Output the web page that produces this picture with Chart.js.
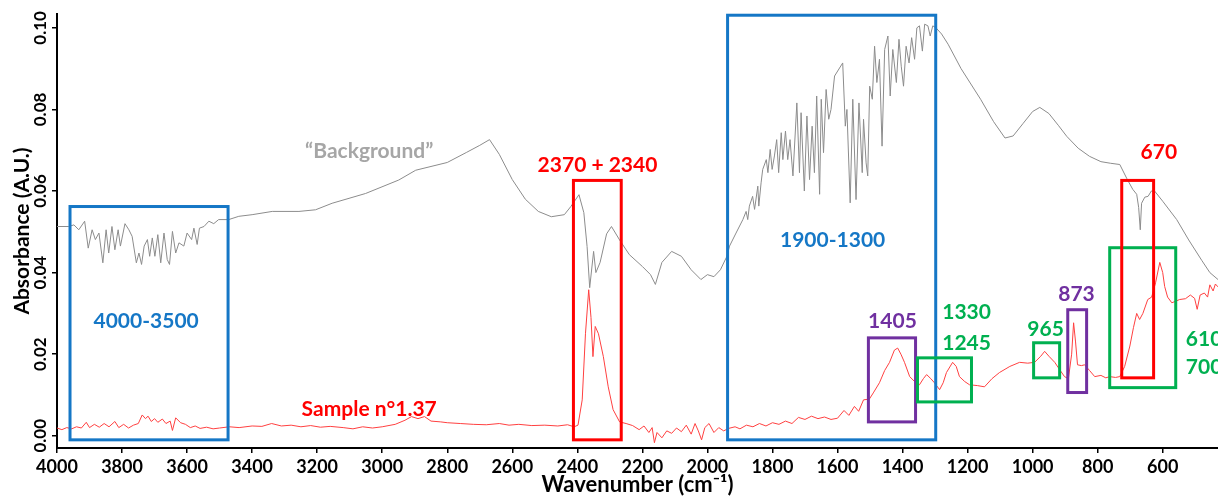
<!DOCTYPE html>
<html>
<head>
<meta charset="utf-8">
<script src="https://cdn.jsdelivr.net/npm/chart.js@4.4.1/dist/chart.umd.min.js"></script>
<style>
  html, body { margin: 0; padding: 0; background: #fff; }
  #wrap { width: 1218px; height: 496px; position: relative; }
</style>
</head>
<body>
<div id="wrap"><canvas id="irChart"></canvas></div>
<script>
// "Background" spectrum (wavenumber, absorbance)
var bgWavenumber = [
    4000, 3964, 3948, 3933, 3915, 3904, 3892, 3882, 3871, 3859, 3849, 3841, 3831, 3822, 3812, 3805,
    3791, 3779, 3769, 3756, 3748, 3740, 3732, 3722, 3715, 3707, 3699, 3690, 3681, 3671, 3661, 3654,
    3645, 3635, 3625, 3610, 3600, 3586, 3579, 3569, 3562, 3548, 3533, 3518, 3503, 3472, 3441, 3400,
    3338, 3256, 3205, 3154, 3051, 2949, 2897, 2800, 2740, 2700, 2670, 2640, 2600, 2560, 2520, 2480,
    2440, 2420, 2395, 2380, 2370, 2362, 2350, 2343, 2330, 2310, 2295, 2270, 2240, 2200, 2175, 2160,
    2140, 2110, 2080, 2050, 2020, 2000, 1980, 1960, 1940, 1932, 1912, 1891, 1881, 1876, 1871, 1861,
    1855, 1845, 1842, 1835, 1830, 1819, 1814, 1807, 1801, 1794, 1787, 1781, 1773, 1768, 1760, 1753,
    1746, 1737, 1725, 1717, 1712, 1702, 1694, 1686, 1678, 1671, 1664, 1655, 1650, 1643, 1635, 1627,
    1620, 1609, 1584, 1576, 1571, 1561, 1553, 1543, 1534, 1524, 1520, 1512, 1507, 1501, 1493, 1486,
    1479, 1471, 1463, 1455, 1445, 1438, 1430, 1419, 1411, 1404, 1397, 1389, 1380, 1372, 1363, 1356,
    1348, 1339, 1332, 1322, 1315, 1307, 1297, 1280, 1260, 1220, 1180, 1160, 1120, 1085, 1060, 1030,
    1000, 978, 950, 920, 895, 860, 825, 790, 760, 732, 710, 692, 680, 674, 669, 665,
    655, 645, 635, 625, 600, 557, 520, 480, 455, 430
];
var bgAbsorbance = [
    0.0513, 0.0513, 0.0517, 0.0505, 0.0526, 0.0460, 0.0505, 0.0481, 0.0497, 0.0424, 0.0505, 0.0448, 0.0513, 0.0456, 0.0505, 0.0465,
    0.0520, 0.0505, 0.0489, 0.0424, 0.0448, 0.0420, 0.0465, 0.0481, 0.0440, 0.0485, 0.0440, 0.0493, 0.0424, 0.0497, 0.0432, 0.0420,
    0.0501, 0.0448, 0.0473, 0.0465, 0.0497, 0.0481, 0.0509, 0.0469, 0.0509, 0.0513, 0.0526, 0.0520, 0.0530, 0.0530, 0.0538, 0.0542,
    0.0550, 0.0550, 0.0554, 0.0570, 0.0594, 0.0627, 0.0651, 0.0670, 0.0695, 0.0712, 0.0726, 0.0690, 0.0628, 0.0580, 0.0550, 0.0537,
    0.0542, 0.0562, 0.0591, 0.0547, 0.0464, 0.0363, 0.0452, 0.0400, 0.0425, 0.0495, 0.0513, 0.0480, 0.0444, 0.0415, 0.0395, 0.0371,
    0.0425, 0.0452, 0.0440, 0.0407, 0.0383, 0.0395, 0.0390, 0.0407, 0.0440, 0.0465, 0.0497, 0.0530, 0.0550, 0.0530, 0.0563, 0.0587,
    0.0555, 0.0612, 0.0563, 0.0620, 0.0653, 0.0677, 0.0645, 0.0702, 0.0653, 0.0686, 0.0726, 0.0645, 0.0743, 0.0677, 0.0747, 0.0677,
    0.0726, 0.0637, 0.0816, 0.0645, 0.0792, 0.0600, 0.0784, 0.0628, 0.0759, 0.0645, 0.0833, 0.0592, 0.0825, 0.0694, 0.0849, 0.0776,
    0.0800, 0.0882, 0.0914, 0.0759, 0.0800, 0.0571, 0.0825, 0.0579, 0.0816, 0.0645, 0.0776, 0.0669, 0.0637, 0.0857, 0.0825, 0.0955,
    0.0866, 0.0923, 0.0710, 0.0947, 0.0980, 0.0833, 0.0947, 0.0866, 0.0972, 0.0906, 0.0857, 0.0955, 0.0914, 0.0976, 0.0923, 0.1000,
    0.1005, 0.0943, 0.1009, 0.1005, 0.0980, 0.1005, 0.1000, 0.0985, 0.0960, 0.0900, 0.0850, 0.0825, 0.0770, 0.0730, 0.0735, 0.0765,
    0.0795, 0.0805, 0.0790, 0.0760, 0.0734, 0.0705, 0.0685, 0.0672, 0.0668, 0.0665, 0.0630, 0.0604, 0.0592, 0.0560, 0.0505, 0.0570,
    0.0585, 0.0587, 0.0600, 0.0600, 0.0575, 0.0530, 0.0480, 0.0430, 0.0400, 0.0383
];

// "Sample n°1.37" spectrum
var sampleWavenumber = [
    4000, 3985, 3970, 3955, 3940, 3925, 3910, 3900, 3885, 3870, 3855, 3840, 3822, 3810, 3795, 3780,
    3765, 3750, 3738, 3728, 3720, 3710, 3700, 3690, 3676, 3665, 3652, 3645, 3635, 3620, 3605, 3590,
    3575, 3560, 3540, 3520, 3500, 3470, 3440, 3400, 3370, 3340, 3310, 3280, 3250, 3220, 3190, 3160,
    3120, 3090, 3060, 3030, 3000, 2960, 2930, 2910, 2890, 2870, 2850, 2820, 2800, 2760, 2720, 2680,
    2640, 2610, 2580, 2540, 2500, 2460, 2430, 2410, 2398, 2385, 2375, 2365, 2358, 2352, 2345, 2335,
    2320, 2305, 2290, 2270, 2250, 2230, 2210, 2195, 2180, 2170, 2163, 2155, 2140, 2125, 2110, 2095,
    2080, 2065, 2050, 2038, 2028, 2018, 2008, 1995, 1980, 1965, 1950, 1935, 1915, 1900, 1880, 1860,
    1840, 1820, 1800, 1780, 1760, 1740, 1720, 1700, 1680, 1660, 1640, 1620, 1600, 1580, 1565, 1548,
    1535, 1520, 1502, 1490, 1471, 1455, 1440, 1425, 1415, 1405, 1394, 1378, 1363, 1348, 1336, 1326,
    1313, 1302, 1286, 1275, 1265, 1246, 1235, 1225, 1209, 1194, 1170, 1148, 1125, 1102, 1070, 1040,
    1015, 994, 975, 963, 950, 932, 915, 902, 890, 880, 874, 868, 862, 850, 840, 825,
    809, 790, 775, 763, 745, 732, 717, 701, 690, 680, 671, 661, 646, 634, 622, 609,
    600, 594, 585, 572, 560, 548, 530, 515, 502, 494, 485, 472, 462, 455, 445, 438, 430
];
var sampleAbsorbance = [
    0.0019, 0.0015, 0.0020, 0.0017, 0.0022, 0.0019, 0.0033, 0.0020, 0.0028, 0.0021, 0.0030, 0.0022, 0.0035, 0.0020, 0.0028, 0.0019,
    0.0026, 0.0030, 0.0051, 0.0042, 0.0048, 0.0035, 0.0042, 0.0033, 0.0041, 0.0030, 0.0036, 0.0013, 0.0044, 0.0032, 0.0028, 0.0020,
    0.0024, 0.0018, 0.0021, 0.0017, 0.0019, 0.0022, 0.0020, 0.0024, 0.0023, 0.0030, 0.0024, 0.0026, 0.0022, 0.0025, 0.0021, 0.0023,
    0.0020, 0.0017, 0.0022, 0.0019, 0.0022, 0.0028, 0.0038, 0.0047, 0.0042, 0.0047, 0.0036, 0.0034, 0.0032, 0.0030, 0.0028, 0.0027,
    0.0030, 0.0026, 0.0028, 0.0025, 0.0026, 0.0024, 0.0027, 0.0022, 0.0026, 0.0088, 0.0250, 0.0358, 0.0290, 0.0194, 0.0268, 0.0250,
    0.0194, 0.0120, 0.0064, 0.0034, 0.0030, 0.0025, 0.0015, 0.0024, 0.0008, 0.0020, -0.0017, 0.0008, -0.0005, 0.0012, 0.0006, 0.0019,
    0.0010, 0.0026, 0.0004, 0.0030, 0.0012, -0.0010, 0.0020, 0.0030, 0.0008, 0.0020, 0.0012, 0.0018, 0.0022, 0.0017, 0.0026, 0.0022,
    0.0030, 0.0024, 0.0032, 0.0028, 0.0036, 0.0030, 0.0045, 0.0040, 0.0048, 0.0042, 0.0046, 0.0040, 0.0043, 0.0062, 0.0050, 0.0072,
    0.0060, 0.0088, 0.0090, 0.0105, 0.0130, 0.0160, 0.0180, 0.0210, 0.0215, 0.0200, 0.0180, 0.0145, 0.0133, 0.0125, 0.0140, 0.0150,
    0.0140, 0.0130, 0.0113, 0.0130, 0.0155, 0.0180, 0.0170, 0.0145, 0.0133, 0.0125, 0.0123, 0.0120, 0.0140, 0.0155, 0.0170, 0.0180,
    0.0178, 0.0180, 0.0195, 0.0207, 0.0195, 0.0180, 0.0160, 0.0145, 0.0140, 0.0200, 0.0277, 0.0230, 0.0174, 0.0172, 0.0174, 0.0160,
    0.0145, 0.0148, 0.0142, 0.0145, 0.0143, 0.0145, 0.0170, 0.0220, 0.0265, 0.0300, 0.0285, 0.0300, 0.0334, 0.0340, 0.0375, 0.0425,
    0.0400, 0.0366, 0.0340, 0.0326, 0.0330, 0.0334, 0.0336, 0.0345, 0.0337, 0.0310, 0.0345, 0.0350, 0.0340, 0.0370, 0.0355, 0.0372, 0.0365
];

// tick labels
var xTicks = [4000, 3800, 3600, 3400, 3200, 3000, 2800, 2600, 2400, 2200, 2000, 1800, 1600, 1400, 1200, 1000, 800, 600];
var yTicks = [0.00, 0.02, 0.04, 0.06, 0.08, 0.10];

var BLUE = '#1577c6', RED = '#ff0000', PURPLE = '#7030a0', GREEN = '#00b050';

// highlighted bands, in wavenumber / absorbance units
var bands = [
    { from: 3960, to: 3474, low: -0.001, high: 0.0562, color: BLUE },
    { from: 2412, to: 2265, low: -0.001, high: 0.0626, color: RED },
    { from: 1938, to: 1298, low: -0.001, high: 0.1031, color: BLUE },
    { from: 1505, to: 1360, low: 0.0034, high: 0.0240, color: PURPLE },
    { from: 1354, to: 1188, low: 0.0083, high: 0.0191, color: GREEN },
    { from: 997, to: 917, low: 0.0142, high: 0.0228, color: GREEN },
    { from: 892, to: 834, low: 0.0106, high: 0.0309, color: PURPLE },
    { from: 763, to: 560, low: 0.0118, high: 0.0461, color: GREEN },
    { from: 726, to: 628, low: 0.0142, high: 0.0626, color: RED }
];

var notes = [
    { text: '4000-3500', wn: 3726, abs: 0.0282, color: BLUE },
    { text: '2370 + 2340', wn: 2338, abs: 0.0663, color: RED },
    { text: '1900-1300', wn: 1615, abs: 0.0479, color: BLUE },
    { text: '1405', wn: 1431, abs: 0.0280, color: PURPLE },
    { text: '1330', wn: 1203, abs: 0.0302, color: GREEN },
    { text: '1245', wn: 1203, abs: 0.0228, color: GREEN },
    { text: '965', wn: 960, abs: 0.0260, color: GREEN },
    { text: '873', wn: 865, abs: 0.0346, color: PURPLE },
    { text: '670', wn: 612, abs: 0.0694, color: RED },
    { text: '610', wn: 529, abs: 0.0236, color: GREEN, align: 'left' },
    { text: '700', wn: 529, abs: 0.0169, color: GREEN, align: 'left' },
    { text: '\u201cBackground\u201d', wn: 3040, abs: 0.0697, color: '#a6a6a6' },
    { text: 'Sample n\u00b01.37', wn: 3040, abs: 0.0064, color: RED }
];

function toPoints(xs, ys) {
    return xs.map(function (x, i) { return { x: x, y: ys[i] }; });
}

var FONT = 'Lato, "Open Sans", sans-serif';

var bandsPlugin = {
    id: 'bands',
    afterDatasetsDraw: function (chart) {
        var ctx = chart.ctx, xs = chart.scales.x, ys = chart.scales.y;
        ctx.save();
        ctx.lineWidth = 3;
        bands.forEach(function (b) {
            var x1 = xs.getPixelForValue(b.from), x2 = xs.getPixelForValue(b.to);
            var y1 = ys.getPixelForValue(b.high), y2 = ys.getPixelForValue(b.low);
            ctx.strokeStyle = b.color;
            ctx.strokeRect(x1, y1, x2 - x1, y2 - y1);
        });
        ctx.font = 'bold 21px ' + FONT;
        ctx.textBaseline = 'middle';
        notes.forEach(function (n) {
            ctx.fillStyle = n.color;
            ctx.textAlign = n.align || 'center';
            ctx.fillText(n.text, xs.getPixelForValue(n.wn), ys.getPixelForValue(n.abs));
        });
        ctx.restore();
    },
    afterDraw: function (chart) {
        // y tick labels, rotated like the original
        var ctx = chart.ctx, ys = chart.scales.y;
        ctx.save();
        ctx.font = 'bold 17px ' + FONT;
        ctx.fillStyle = '#000';
        ctx.textAlign = 'center';
        ctx.textBaseline = 'middle';
        ys.ticks.forEach(function (t) {
            ctx.save();
            ctx.translate(41, ys.getPixelForValue(t.value));
            ctx.rotate(-Math.PI / 2);
            ctx.fillText(t.value.toFixed(2), 0, 0);
            ctx.restore();
        });
        ctx.restore();
    }
};

var ctx = document.getElementById('irChart').getContext('2d');
new Chart(ctx, {
    type: 'line',
    data: {
        datasets: [{
            label: 'Sample n\u00b01.37',
            data: toPoints(sampleWavenumber, sampleAbsorbance),
            borderColor: '#ff4040',
            borderWidth: 1,
            pointRadius: 0,
            tension: 0
        }, {
            label: 'Background',
            data: toPoints(bgWavenumber, bgAbsorbance),
            borderColor: '#8c8c8c',
            borderWidth: 1,
            pointRadius: 0,
            tension: 0
        }]
    },
    options: {
        responsive: true,
        maintainAspectRatio: false,
        animation: false,
        layout: { padding: { top: 14, right: 0, bottom: 0, left: 0 } },
        plugins: {
            legend: { display: false },
            tooltip: { enabled: false }
        },
        scales: {
            x: {
                type: 'linear',
                reverse: true,
                min: 430,
                max: 4000,
                afterBuildTicks: function (scale) {
                    scale.ticks = xTicks.map(function (v) { return { value: v }; });
                },
                afterFit: function (scale) { scale.height = 48; },
                border: { display: true, color: '#000', width: 2 },
                grid: { drawOnChartArea: false, drawTicks: true, tickLength: 5, color: '#000', lineWidth: 1.5 },
                ticks: {
                    autoSkip: false,
                    maxRotation: 0,
                    padding: 3,
                    color: '#000',
                    font: { family: FONT, size: 18, weight: 'bold' },
                    callback: function (v) { return String(v); }
                },
                title: {
                    display: true,
                    text: 'Wavenumber (cm\u207b\u00b9)',
                    color: '#000',
                    font: { family: FONT, size: 22, weight: 'bold', lineHeight: 1 },
                    padding: { top: 0, bottom: 0 }
                }
            },
            y: {
                type: 'linear',
                min: -0.003,
                max: 0.1034,
                afterBuildTicks: function (scale) {
                    scale.ticks = yTicks.map(function (v) { return { value: v }; });
                },
                afterFit: function (scale) { scale.width = 57; },
                border: { display: true, color: '#000', width: 2 },
                grid: { drawOnChartArea: false, drawTicks: true, tickLength: 5, color: '#000', lineWidth: 1.5 },
                ticks: { display: false },
                title: {
                    display: true,
                    text: 'Absorbance (A.U.)',
                    color: '#000',
                    font: { family: FONT, size: 21, weight: 'bold', lineHeight: 1 },
                    padding: { top: 12, bottom: 0 }
                }
            }
        }
    },
    plugins: [bandsPlugin]
});
</script>
</body>
</html>
